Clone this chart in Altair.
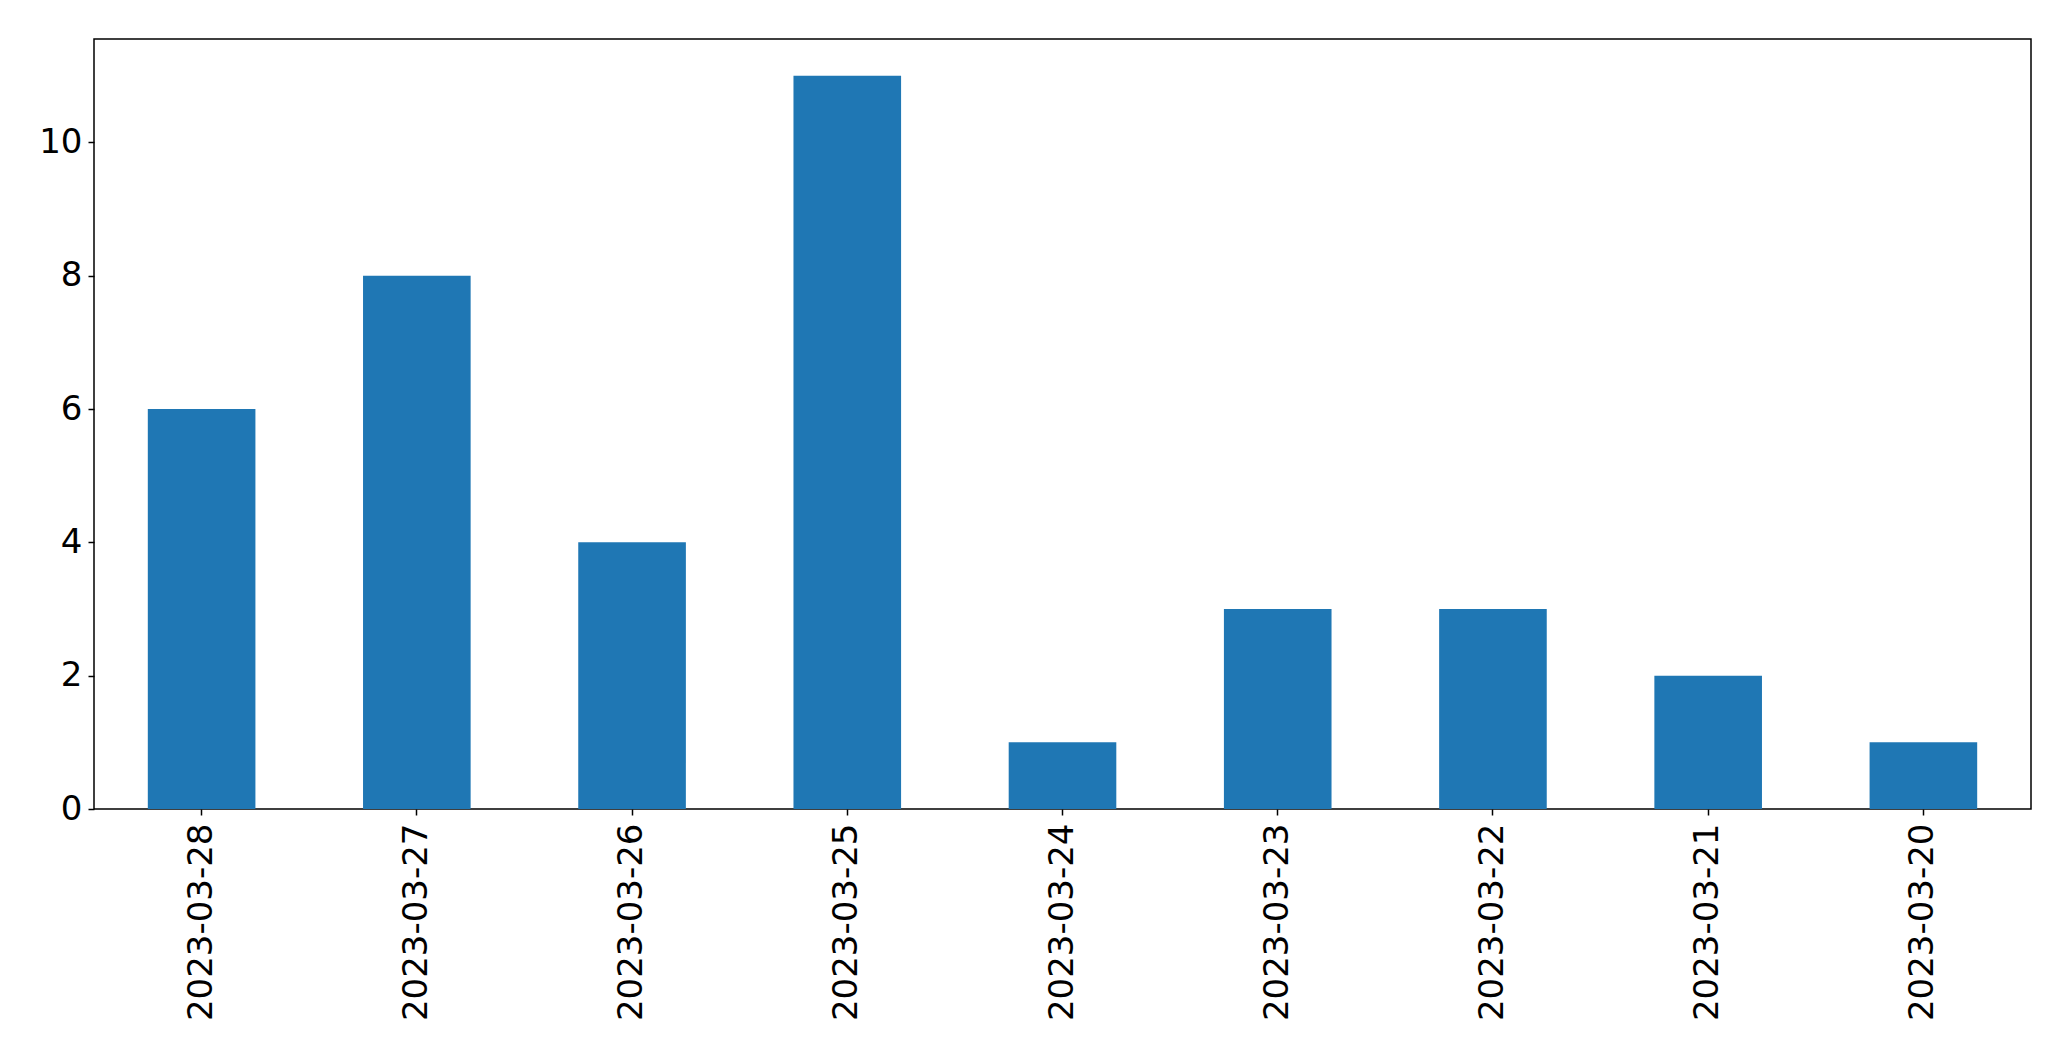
import altair as alt
import pandas as pd

dates = ["2023-03-28", "2023-03-27", "2023-03-26", "2023-03-25", "2023-03-24",
         "2023-03-23", "2023-03-22", "2023-03-21", "2023-03-20"]
counts = [6, 8, 4, 11, 1, 3, 3, 2, 1]
y_ticks = [0, 2, 4, 6, 8, 10]

df = pd.DataFrame({"date": dates, "count": counts})

FONT = "DejaVu Sans"

chart = alt.Chart(df).mark_bar(color="#1f77b4").encode(
    x=alt.X("date:N", sort=None, title=None,
            scale=alt.Scale(paddingInner=0.5, paddingOuter=0.25),
            axis=alt.Axis(labelAngle=270, labelFontSize=34, labelFont=FONT,
                          labelColor="black", tickColor="black", tickSize=6,
                          tickWidth=1.5, domain=False, labelPadding=8,
                          labelLimit=0, labelOverlap=False,
                          labelBaseline="middle", labelAlign="right")),
    y=alt.Y("count:Q", title=None,
            scale=alt.Scale(domain=[0, 11.55], nice=False, zero=True),
            axis=alt.Axis(values=y_ticks, grid=False, labelFontSize=34,
                          labelFont=FONT, labelColor="black", tickColor="black",
                          tickSize=6, tickWidth=1.5, domain=False,
                          labelPadding=6)),
).properties(
    width=1937,
    height=770,
    background="white",
    autosize=alt.AutoSizeParams(type="none"),
    padding={"left": 86, "top": 31, "right": 30, "bottom": 240},
).configure_view(
    stroke="black", strokeWidth=1.5
)

chart.save("out.html", embed_options={"renderer": "svg", "actions": False})
